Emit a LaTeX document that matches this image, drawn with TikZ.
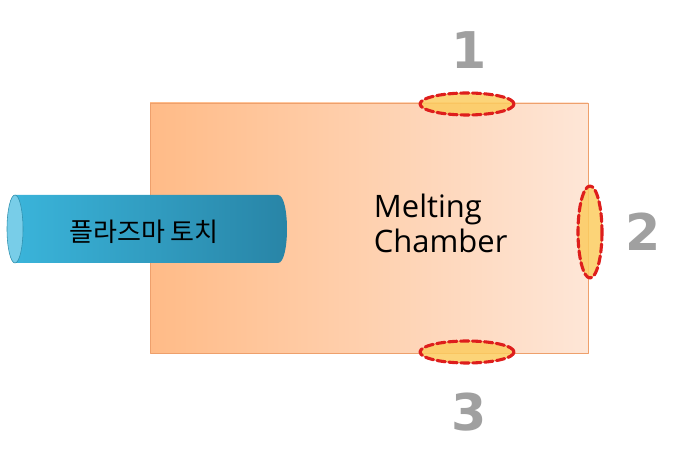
\documentclass[tikz,border=0pt]{standalone}
\usepackage{fontspec}
\setmainfont{Open Sans}
\newfontfamily\korfont{Noto Sans CJK KR}
\newfontfamily\numfont{DejaVu Sans}
\definecolor{chamL}{RGB}{255,187,135}
\definecolor{chamR}{RGB}{254,230,215}
\definecolor{chamD}{RGB}{238,160,108}
\definecolor{torchL}{RGB}{58,180,218}
\definecolor{torchR}{RGB}{40,132,166}
\definecolor{torchC}{RGB}{120,205,232}
\definecolor{portF}{RGB}{252,204,96}
\definecolor{portD}{RGB}{222,30,28}
\definecolor{numC}{RGB}{160,160,160}
\begin{document}
\begin{tikzpicture}[x=0.025cm, y=-0.025cm, line join=round, line cap=round,
 port/.style={draw=portD, line width=2.2pt, dash pattern=on 6pt off 2.5pt, fill=portF, fill opacity=0.85, draw opacity=1},
 num/.style={font=\numfont\bfseries\fontsize{36}{40}\selectfont, text=numC}]
 \useasboundingbox (0,0) rectangle (692,451);
 % chamber
 \shade[left color=chamL, right color=chamR] (150,103) rectangle (588,353);
 \draw[chamD, line width=0.6pt] (150,103) rectangle (588,353);
 \node[font=\fontsize{22}{25}\selectfont, align=left, anchor=west] (chamber) at (369,223) {Melting\\Chamber};
 % torch
 \shade[left color=torchL, right color=torchR] (15,195) -- (278,195) .. controls (290,195) and (290,263) .. (278,263) -- (15,263) -- cycle;
 \draw[fill=torchC, draw=torchL!80!black, line width=0.4pt] (15,229) ellipse [x radius=8, y radius=34];
 \node[font=\korfont\fontsize{18.5}{22}\selectfont] (torch) at (144,232) {플라즈마 토치};
 % ports
 \foreach \n/\cx/\cy/\rx/\ry in {1/467/104/47/11, 2/590/232/12/46, 3/467/352/47/11}
  \draw[port] (\cx,\cy) ellipse [x radius=\rx, y radius=\ry];
 \node[num] (n1) at (469,50) {1};
 \node[num] (n2) at (643,232) {2};
 \node[num] (n3) at (469,412) {3};
\end{tikzpicture}
\end{document}
